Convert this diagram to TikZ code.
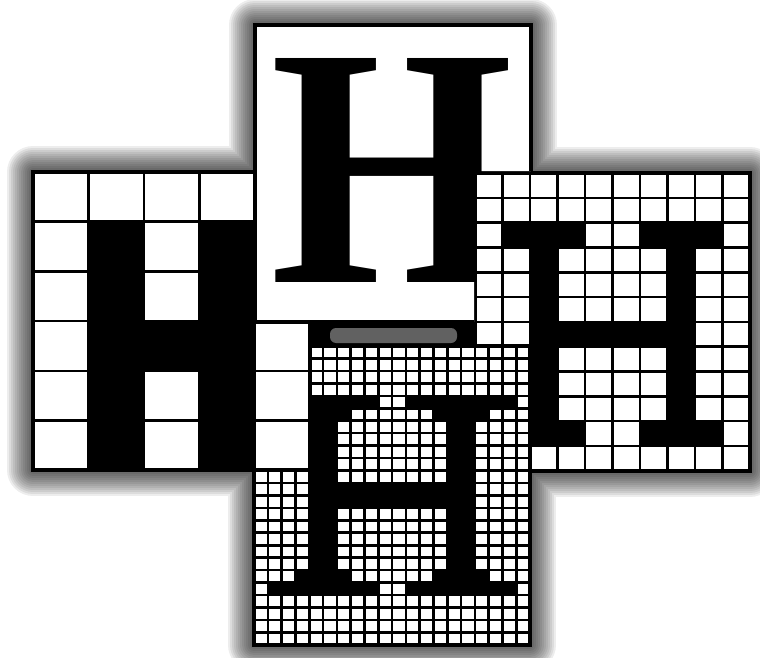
\documentclass[tikz,border=0pt]{standalone}
\usepackage{graphicx}
\usepackage{fontspec}
\newfontfamily\glyphfont{Liberation Serif}

\tikzset{
  cellgap/.style={line width=1.3pt},
  panelrim/.style={line width=2pt},
  halo/.style={line width=#1, line join=round, black, opacity=0.07},
}

\begin{document}
\begin{tikzpicture}[x=0.5pt, y=-0.5pt]
    \useasboundingbox (0,0) rectangle (760,658);

    % Shadow round the cross
    \foreach \w in {26,24,...,2}
      \draw[halo=\w pt] (255,25) -- (531,25) -- (531,173) -- (750,173) -- (750,471) -- (530,471)
        -- (530,645) -- (254,645) -- (254,470) -- (33,470) -- (33,172) -- (255,172) -- cycle;

    % Black ground
    \fill (255,25) -- (531,25) -- (531,173) -- (750,173) -- (750,471) -- (530,471)
        -- (530,645) -- (254,645) -- (254,470) -- (33,470) -- (33,172) -- (255,172) -- cycle;
    \fill[black!62, rounded corners=3pt] (330,328) rectangle (457,343);

    % Medium grid (right)
    \begin{scope}[shift={(475,173)}, x=13.75pt, y=-12.4pt]
      \fill[white] (0,0) rectangle (10,12);
      \foreach \i in {0,...,10} \draw[cellgap] (\i,0) -- (\i,12);
      \foreach \j in {0,...,12} \draw[cellgap] (0,\j) -- (10,\j);
      \fill (1,2) rectangle (4,3) (6,2) rectangle (9,3)
            (2,2) rectangle (3,11) (7,2) rectangle (8,11)
            (2,6) rectangle (8,7)
            (1,10) rectangle (4,11) (6,10) rectangle (9,11);
      \draw[panelrim] (0,0) rectangle (10,12);
    \end{scope}

    % Fine grid (bottom)
    \begin{scope}[shift={(254,346)}, x=6.9pt, y=-6.225pt]
      \fill[white] (0,0) rectangle (20,24);
      \foreach \i in {0,...,20} \draw[cellgap] (\i,0) -- (\i,24);
      \foreach \j in {0,...,24} \draw[cellgap] (0,\j) -- (20,\j);
      \fill (1,4) rectangle (9,5) (11,4) rectangle (19,5)
            (3,5) rectangle (7,6) (13,5) rectangle (17,6)
            (4,4) rectangle (6,20) (14,4) rectangle (16,20)
            (4,11) rectangle (16,13)
            (3,18) rectangle (7,19) (13,18) rectangle (17,19)
            (1,19) rectangle (9,20) (11,19) rectangle (19,20);
      \draw[panelrim] (0,0) rectangle (20,24);
    \end{scope}

    % Coarse grid (left)
    \begin{scope}[shift={(33,172)}, x=27.7pt, y=-24.85pt]
      \fill[white] (0,0) rectangle (5,6);
      \foreach \i in {0,...,5} \draw[cellgap] (\i,0) -- (\i,6);
      \foreach \j in {0,...,6} \draw[cellgap] (0,\j) -- (5,\j);
      \fill (1,1) rectangle (2,6) (3,1) rectangle (4,6)
            (1,3) rectangle (4,4);
      \draw[panelrim] (0,0) rectangle (5,6);
    \end{scope}

    % Outline letter (top), under the right grid
    \begin{scope}
      \clip (240,10) -- (545,10) -- (545,171) -- (474,171) -- (474,330) -- (240,330) -- cycle;
      \draw[panelrim, fill=white] (255,25) rectangle (531,322);
      \node[inner sep=0pt] (bigH) at (392.5,170)
        {\resizebox{121.5pt}{112pt}{\glyphfont\bfseries H}};
    \end{scope}
\end{tikzpicture}
\end{document}
